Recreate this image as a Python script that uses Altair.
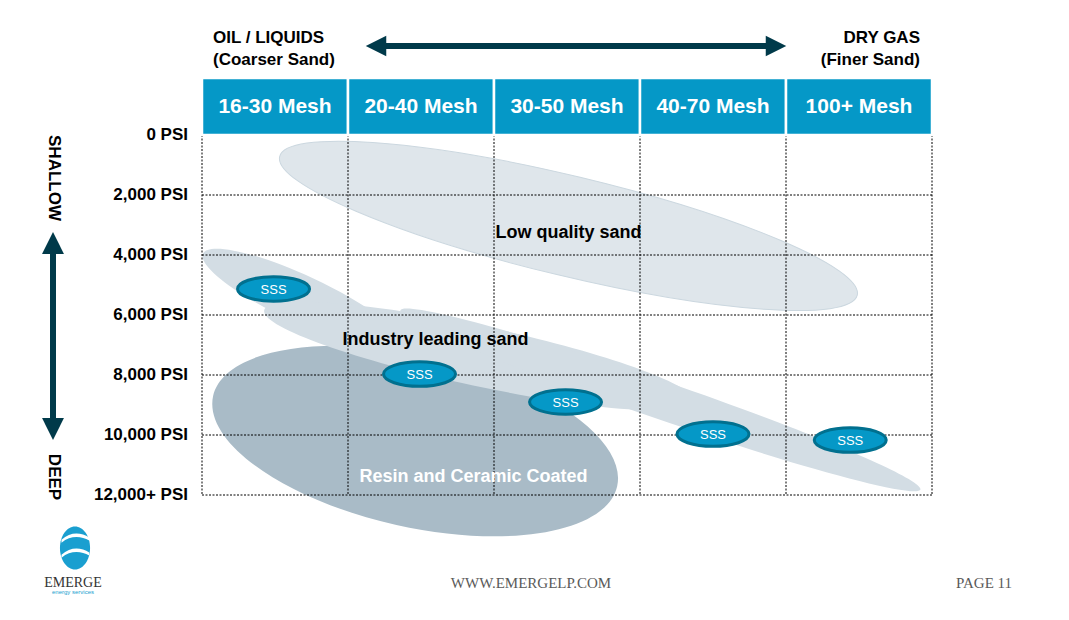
import altair as alt
import pandas as pd

# ---------------- data ----------------
mesh_labels = ["16-30 Mesh", "20-40 Mesh", "30-50 Mesh", "40-70 Mesh", "100+ Mesh"]
mesh_start = [0, 1, 2, 3, 4]
mesh_end = [1, 2, 3, 4, 5]
mesh_mid = [0.5, 1.5, 2.5, 3.5, 4.5]
col_bounds = [0, 1, 2, 3, 4, 5]

psi_ticks = [0, 2000, 4000, 6000, 8000, 10000, 12000]
psi_labels = ["0 PSI", "2,000 PSI", "4,000 PSI", "6,000 PSI", "8,000 PSI",
              "10,000 PSI", "12,000+ PSI"]

# sand-quality regions (centre in mesh-column units / PSI)
region_names = ["Low quality sand", "Resin and Ceramic Coated",
                "Industry leading sand (shallow)", "Industry leading sand (mid)",
                "Industry leading sand (deep)"]
region_x = [2.51, 1.46, 0.69, 1.90, 3.14]
region_psi = [3030, 10200, 5500, 7370, 8830]

label_text = ["Low quality sand", "Industry leading sand", "Resin and Ceramic Coated"]
label_x = [2.51, 1.60, 1.86]
label_psi = [3270, 6830, 11400]

sss_x = [0.49, 1.49, 2.49, 3.50, 4.44]
sss_psi = [5130, 7970, 8900, 9970, 10170]
sss_text = ["SSS", "SSS", "SSS", "SSS", "SSS"]

# ---------------- styles ----------------
W, H = 730, 360
FONT = "Liberation Sans"
BLUE = "#0598c7"
DARK = "#003a4a"
region_style = {
    # semi-major px, semi-minor px, angle, fill, stroke
    "Low quality sand": (297, 50, 13.5, "#dfe6eb", "#cbd7df"),
    "Resin and Ceramic Coated": (207, 86, 12.6, "#a9bbc7", None),
    "Industry leading sand (shallow)": (110, 24, 25, "#d3dde4", None),
    "Industry leading sand (mid)": (220, 30, 12, "#d3dde4", None),
    "Industry leading sand (deep)": (275, 19, 19, "#d3dde4", None),
}

xs = alt.Scale(domain=[0, 5], nice=False, zero=False)
ys = alt.Scale(domain=[0, 12000], nice=False, zero=False, reverse=True)
one = pd.DataFrame({"k": [0]})


def ellipse_path(ratio):
    return f"M -1 0 A 1 {ratio} 0 0 1 1 0 A 1 {ratio} 0 0 1 -1 0 Z"


layers = []

# region ellipses
for name, x, p in zip(region_names, region_x, region_psi):
    a, b, ang, fill, stroke = region_style[name]
    kw = dict(shape=ellipse_path(round(b / a, 4)), filled=True, fill=fill,
              size=(2 * a) ** 2, angle=ang, opacity=1, fillOpacity=1)
    if stroke:
        kw.update(stroke=stroke, strokeWidth=1, strokeOpacity=1)
    else:
        kw.update(strokeWidth=0)
    layers.append(
        alt.Chart(pd.DataFrame({"x": [x], "psi": [p], "name": [name]}))
        .mark_point(**kw)
        .encode(x=alt.X("x:Q", scale=xs, axis=None),
                y=alt.Y("psi:Q", scale=ys, axis=None))
    )

# dotted grid
grid_dash = [2, 1.5]
layers.append(
    alt.Chart(pd.DataFrame({"psi": psi_ticks}))
    .mark_rule(color="black", strokeWidth=1, strokeDash=grid_dash)
    .encode(y=alt.Y("psi:Q", scale=ys, axis=None), x=alt.value(0), x2=alt.value(W))
)
layers.append(
    alt.Chart(pd.DataFrame({"b": col_bounds}))
    .mark_rule(color="black", strokeWidth=1, strokeDash=grid_dash)
    .encode(x=alt.X("b:Q", scale=xs, axis=None), y=alt.value(0), y2=alt.value(H))
)

# SSS badges
sss_df = pd.DataFrame({"x": sss_x, "psi": sss_psi, "t": sss_text})
layers.append(
    alt.Chart(sss_df)
    .mark_point(shape=ellipse_path(0.34), filled=True, fill=BLUE, stroke="#01708f",
                strokeWidth=3, size=72 ** 2, opacity=1, fillOpacity=1, strokeOpacity=1)
    .encode(x=alt.X("x:Q", scale=xs, axis=None), y=alt.Y("psi:Q", scale=ys, axis=None))
)
layers.append(
    alt.Chart(sss_df)
    .mark_text(color="white", font=FONT, fontSize=13, baseline="middle", dy=1)
    .encode(x=alt.X("x:Q", scale=xs, axis=None), y=alt.Y("psi:Q", scale=ys, axis=None),
            text="t:N")
)

# region labels
lab_df = pd.DataFrame({"x": label_x, "psi": label_psi, "t": label_text,
                       "c": ["black", "black", "white"]})
layers.append(
    alt.Chart(lab_df)
    .mark_text(font=FONT, fontSize=18, fontWeight="bold", baseline="middle")
    .encode(x=alt.X("x:Q", scale=xs, axis=None), y=alt.Y("psi:Q", scale=ys, axis=None),
            text="t:N", color=alt.Color("c:N", scale=None))
)

# header cells
head_df = pd.DataFrame({"s": mesh_start, "e": mesh_end, "m": mesh_mid, "t": mesh_labels})
layers.append(
    alt.Chart(head_df)
    .mark_rect(fill=BLUE, stroke="white", strokeWidth=2.5)
    .encode(x=alt.X("s:Q", scale=xs, axis=None), x2="e:Q",
            y=alt.value(-57), y2=alt.value(0))
)
layers.append(
    alt.Chart(head_df)
    .mark_text(color="white", font=FONT, fontSize=21, fontWeight="bold", baseline="middle")
    .encode(x=alt.X("m:Q", scale=xs, axis=None), y=alt.value(-28), text="t:N")
)

# y labels
layers.append(
    alt.Chart(pd.DataFrame({"psi": psi_ticks, "t": psi_labels}))
    .mark_text(font=FONT, fontSize=17, fontWeight="bold", align="right",
               baseline="middle", color="black")
    .encode(y=alt.Y("psi:Q", scale=ys, axis=None), x=alt.value(-14), text="t:N")
)


def txt(t, x, y, **kw):
    base = dict(font=FONT, fontSize=17, fontWeight="bold", color="black",
                baseline="middle")
    base.update(kw)
    return (alt.Chart(pd.DataFrame({"t": [t]})).mark_text(**base)
            .encode(x=alt.value(x), y=alt.value(y), text="t:N"))


# top titles
layers += [
    txt("OIL / LIQUIDS", 11, -97, align="left"),
    txt("(Coarser Sand)", 11, -75, align="left"),
    txt("DRY GAS", 718, -97, align="right"),
    txt("(Finer Sand)", 718, -75, align="right"),
    txt("SHALLOW", -148, 43, align="center", angle=90),
    txt("DEEP", -148, 342, align="center", angle=90),
]

# arrows
layers.append(alt.Chart(one).mark_rule(color=DARK, strokeWidth=6)
              .encode(x=alt.value(176), x2=alt.value(572), y=alt.value(-89)))
layers.append(alt.Chart(one).mark_point(shape="M -1 0 L 1 -1 L 1 1 Z", filled=True,
                                        fill=DARK, size=420, opacity=1, strokeWidth=0)
              .encode(x=alt.value(174), y=alt.value(-89)))
layers.append(alt.Chart(one).mark_point(shape="M 1 0 L -1 -1 L -1 1 Z", filled=True,
                                        fill=DARK, size=420, opacity=1, strokeWidth=0)
              .encode(x=alt.value(574), y=alt.value(-89)))
layers.append(alt.Chart(one).mark_rule(color=DARK, strokeWidth=6)
              .encode(x=alt.value(-149), y=alt.value(110), y2=alt.value(292)))
layers.append(alt.Chart(one).mark_point(shape="M 0 -1 L 1 1 L -1 1 Z", filled=True,
                                        fill=DARK, size=480, opacity=1, strokeWidth=0)
              .encode(x=alt.value(-149), y=alt.value(108)))
layers.append(alt.Chart(one).mark_point(shape="M 0 1 L 1 -1 L -1 -1 Z", filled=True,
                                        fill=DARK, size=480, opacity=1, strokeWidth=0)
              .encode(x=alt.value(-149), y=alt.value(294)))

# footer: logo + url + page
layers.append(alt.Chart(one).mark_point(shape=ellipse_path(0.7), filled=True,
                                        fill="#1a9fd0", size=43 ** 2, angle=90,
                                        opacity=1, strokeWidth=0)
              .encode(x=alt.value(-127), y=alt.value(413)))
for yy in [404, 419]:
    layers.append(alt.Chart(one).mark_point(
        shape="M -0.9 0.05 C -0.3 -0.5 0.4 -0.45 0.95 -0.1 L 0.95 0.1 C 0.4 -0.2 -0.3 -0.25 -0.9 0.25 Z",
        filled=True, fill="white", size=900, opacity=1, strokeWidth=0)
        .encode(x=alt.value(-127), y=alt.value(yy)))
layers += [
    txt("EMERGE", -129, 448, font="Liberation Serif", fontWeight="normal",
        fontSize=14, color="#333333", align="center"),
    txt("energy services", -129, 457, fontWeight="normal", fontSize=6,
        color="#1a9fd0", align="center"),
    txt("WWW.EMERGELP.COM", 329, 448, font="Liberation Serif", fontWeight="normal",
        fontSize=15, color="#5a5a5a", align="center"),
    txt("PAGE 11", 810, 448, font="Liberation Serif", fontWeight="normal",
        fontSize=15, color="#5a5a5a", align="right"),
]

chart = (
    alt.layer(*layers)
    .properties(width=W, height=H, background="white",
                autosize=alt.AutoSizeParams(type="none"),
                padding={"left": 202, "top": 135, "right": 137, "bottom": 125})
    .configure_view(stroke=None)
)

chart.save("out.html", embed_options={"renderer": "svg", "actions": False})
